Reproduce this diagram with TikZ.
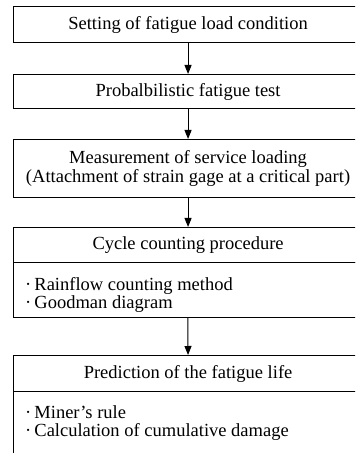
\documentclass[tikz,border=0pt]{standalone}
\usepackage{fontspec}
\setmainfont{Liberation Serif}
\usetikzlibrary{arrows.meta}
\begin{document}
\begin{tikzpicture}[x=1bp,y=-1bp,
  hdr/.style={draw, line width=1.1bp, minimum width=349bp, inner sep=0pt,
    anchor=north west, align=center, font=\fontsize{18.5bp}{18.5bp}\selectfont},
  lst/.style={line width=0.6bp, minimum width=349bp, minimum height=55bp,
    inner sep=0pt, anchor=north west},
  items/.style={anchor=north west, inner sep=0pt, align=left,
    font=\fontsize{18.5bp}{17.8bp}\selectfont},
  arr/.style={-{Triangle[length=9bp,width=7bp]}, line width=1bp}]
\useasboundingbox (0,0) rectangle (355,453);
\clip (0,0) rectangle (355,453);
\node[hdr, minimum height=36bp] (b1) at (13,6) {Setting of fatigue load condition};
\node[hdr, minimum height=34bp] (b2) at (13,74) {Probalbilistic fatigue test};
\node[hdr, minimum height=58bp] (b3) at (13,139) {Measurement of service loading\\(Attachment of strain gage at a critical part)};
\node[hdr, minimum height=35bp] (b4) at (13,227) {Cycle counting procedure};
\node[lst, draw] (b4l) at (13,262) {};
\node[items] (t4) at (25,277) {\textperiodcentered\,Rainflow counting method\\\textperiodcentered\,Goodman diagram};
\node[hdr, minimum height=36bp] (b5) at (13,355) {Prediction of the fatigue life};
\node[lst, minimum height=62bp] (b5l) at (13,391) {};
\node[items] (t5) at (25,405.5) {\textperiodcentered\,Miner's rule\\\textperiodcentered\,Calculation of cumulative damage};
\draw[line width=0.6bp] (b5l.north west) -- ++(0,70);
\draw[arr] (b1.south) -- (b2.north);
\draw[arr] (b2.south) -- (b3.north);
\draw[arr] (b3.south) -- (b4.north);
\draw[arr] (b4l.south) -- (b5.north);
\end{tikzpicture}
\end{document}
